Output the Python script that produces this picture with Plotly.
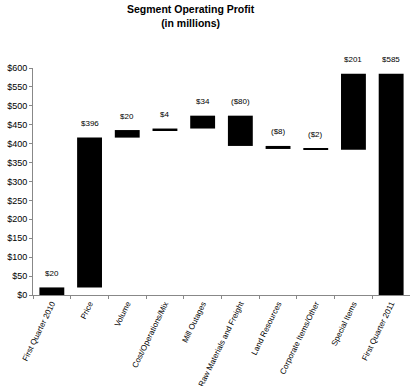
import plotly.graph_objects as go

categories = ["First Quarter 2010", "Price", "Volume", "Cost/Operations/Mix", "Mill Outages",
              "Raw Materials and Freight", "Land Resources", "Corporate Items/Other",
              "Special Items", "First Quarter 2011"]
changes = [20, 396, 20, 4, 34, -80, -8, -2, 201, 585]
measures = ["total", "relative", "relative", "relative", "relative", "relative",
            "relative", "relative", "relative", "total"]
labels = ["$20", "$396", "$20", "$4", "$34", "($80)", "($8)", "($2)", "$201", "$585"]
y_ticks = list(range(0, 601, 50))

bases, heights, tops = [], [], []
running = 0
for c, m in zip(changes, measures):
    if m == "total":
        base, h = 0, c
        running = c
    else:
        start = running
        running = start + c
        base, h = min(start, running), abs(c)
    bases.append(base)
    heights.append(h)
    tops.append(base + h)

fig = go.Figure(go.Bar(x=categories, y=heights, base=bases, marker_color="black",
                       marker_line_width=0, width=0.66, hoverinfo="skip"))

for cat, top, lab in zip(categories, tops, labels):
    fig.add_annotation(x=cat, y=top, text=lab, showarrow=False, yshift=14,
                       font=dict(size=8, color="black", family="Liberation Sans"))

fig.add_annotation(xref="paper", yref="paper", x=0.42, y=1, yshift=67, yanchor="top",
                   text="<b>Segment Operating Profit<br>(in millions)</b>", showarrow=False,
                   font=dict(size=10.5, family="Liberation Sans", color="black"))

fig.update_layout(
    width=410, height=386,
    margin=dict(l=33, r=0, t=68, b=91),
    plot_bgcolor="white", paper_bgcolor="white",
    font=dict(family="Liberation Sans", color="black", size=9),
    showlegend=False,
)
fig.update_yaxes(range=[0, 600], tickvals=y_ticks, ticktext=[f"${v}" for v in y_ticks],
                 showgrid=False, showline=True, linecolor="#888888", linewidth=1,
                 ticks="outside", ticklen=3, tickcolor="#888888", zeroline=False,
                 tickfont=dict(size=9), automargin=False)
fig.update_xaxes(showgrid=False, showline=True, linecolor="#888888", linewidth=1,
                 ticks="outside", ticklen=3, tickcolor="#888888", tickson="boundaries",
                 tickangle=-64, tickfont=dict(size=8), automargin=False)

fig.write_html("out.html", config={"displayModeBar": False},
               post_script="document.body.style.margin='0';document.body.style.overflow='hidden';")
